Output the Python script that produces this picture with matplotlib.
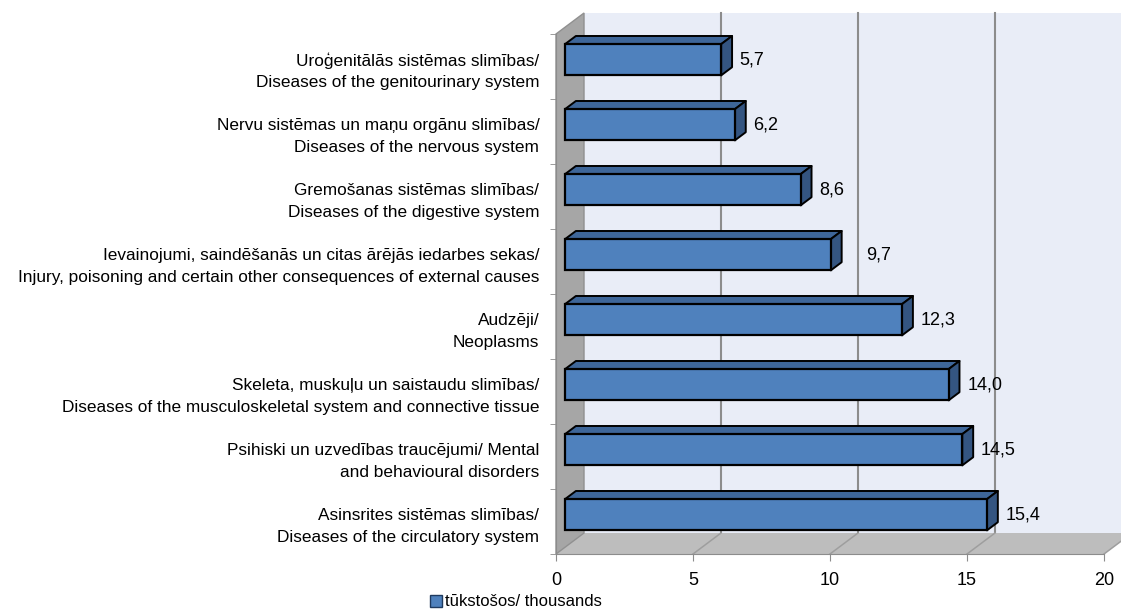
import matplotlib
matplotlib.use("Agg")
import matplotlib.pyplot as plt
from matplotlib.patches import Polygon, Patch
from matplotlib.lines import Line2D

# ---- data (bottom to top) ----
categories = [
    "Asinsrites sistēmas slimības/\nDiseases of the circulatory system",
    "Psihiski un uzvedības traucējumi/ Mental\nand behavioural disorders",
    "Skeleta, muskuļu un saistaudu slimības/\nDiseases of the musculoskeletal system and connective tissue",
    "Audzēji/\nNeoplasms",
    "Ievainojumi, saindēšanās un citas ārējās iedarbes sekas/\nInjury, poisoning and certain other consequences of external causes",
    "Gremošanas sistēmas slimības/\nDiseases of the digestive system",
    "Nervu sistēmas un maņu orgānu slimības/\nDiseases of the nervous system",
    "Uroģenitālās sistēmas slimības/\nDiseases of the genitourinary system",
]
values = [15.4, 14.5, 14.0, 12.3, 9.7, 8.6, 6.2, 5.7]
value_labels = ["15,4", "14,5", "14,0", "12,3", "9,7", "8,6", "6,2", "5,7"]
x_ticks = [0, 5, 10, 15, 20]
x_tick_labels = ["0", "5", "10", "15", "20"]
legend_label = "tūkstošos/ thousands"

# ---- style ----
plt.rcParams["font.family"] = ["Liberation Sans", "DejaVu Sans"]
FS = 13
FS_CAT = 12.4
W, H, DPI = 1121, 613, 100

# 3D oblique projection (full depth offset in data units)
DX = 1.022   # value units
DY = 0.323   # category units
ZB0, ZB1 = 0.32, 0.71   # bar front / back depth fraction
BAR_H = 0.48

def P(v, y, z):
    return (v + z * DX, y + z * DY)

fig = plt.figure(figsize=(W / DPI, H / DPI), dpi=DPI)
ax = fig.add_axes([556 / W, (H - 554) / H, 548 / W, 520 / H])
n = len(categories)
ax.set_xlim(0, 20)
ax.set_ylim(-0.5, n - 0.5)
ax.set_facecolor("none")

ymin, ymax = -0.5, n - 0.5
XMAX = 20

wall_col = "#E9EDF7"
side_wall_col = "#A6A6A6"
floor_col = "#BDBDBD"
grid_col = "#8C8C8C"

# back wall
ax.add_patch(Polygon([P(0, ymin, 1), P(XMAX, ymin, 1), P(XMAX, ymax, 1), P(0, ymax, 1)],
                     closed=True, facecolor=wall_col, edgecolor="none", zorder=0, clip_on=False))
# gridlines on back wall
for t in x_ticks[1:-1]:
    a, b = P(t, ymin, 1), P(t, ymax, 1)
    ax.add_line(Line2D([a[0], b[0]], [a[1], b[1]], color=grid_col, lw=1.5, zorder=1, clip_on=False))
# floor
ax.add_patch(Polygon([P(0, ymin, 0), P(XMAX, ymin, 0), P(XMAX, ymin, 1), P(0, ymin, 1)],
                     closed=True, facecolor=floor_col, edgecolor="none", zorder=1, clip_on=False))
for t in x_ticks[1:]:
    a, b = P(t, ymin, 0), P(t, ymin, 1)
    ax.add_line(Line2D([a[0], b[0]], [a[1], b[1]], color="#9E9E9E", lw=1.1, zorder=1.5, clip_on=False))
# left side wall
ax.add_patch(Polygon([P(0, ymin, 0), P(0, ymax, 0), P(0, ymax, 1), P(0, ymin, 1)],
                     closed=True, facecolor=side_wall_col, edgecolor="#909090", lw=1.0,
                     zorder=2, clip_on=False))

# bars
front_col = "#4F81BD"
top_col = "#3E6699"
side_col = "#345581"
ys = list(range(n))
fx0, fy0 = P(0, 0, ZB0)
ax.barh([y + fy0 for y in ys], values, height=BAR_H, left=fx0, color=front_col,
        edgecolor="black", linewidth=1.6, zorder=5)
for y, v in zip(ys, values):
    yt = y + BAR_H / 2
    yb = y - BAR_H / 2
    top = [P(0, yt, ZB0), P(v, yt, ZB0), P(v, yt, ZB1), P(0, yt, ZB1)]
    side = [P(v, yb, ZB0), P(v, yt, ZB0), P(v, yt, ZB1), P(v, yb, ZB1)]
    ax.add_patch(Polygon(top, closed=True, facecolor=top_col, edgecolor="black", lw=1.4,
                         zorder=4, clip_on=False, joinstyle="round"))
    ax.add_patch(Polygon(side, closed=True, facecolor=side_col, edgecolor="black", lw=1.4,
                         zorder=4, clip_on=False, joinstyle="round"))

# value labels
label_nudge = {4: 0.6}
for i, (y, v, lab) in enumerate(zip(ys, values, value_labels)):
    xe, ye = P(v, y, ZB1)
    ax.text(xe + 0.28 + label_nudge.get(i, 0), y + fy0, lab, ha="left", va="center",
            fontsize=FS, color="black", zorder=6, clip_on=False)

# axes
for s in ["top", "right"]:
    ax.spines[s].set_visible(False)
ax.spines["bottom"].set_color("#8C8C8C")
ax.spines["left"].set_color("#8C8C8C")
ax.spines["bottom"].set_zorder(3)
ax.spines["left"].set_zorder(3)
ax.set_xticks(x_ticks)
ax.set_xticklabels(x_tick_labels, fontsize=FS)
ax.tick_params(axis="x", direction="out", length=5, color="#8C8C8C", pad=8)
ax.set_yticks(ys)
ax.set_yticklabels(categories, fontsize=FS_CAT, linespacing=1.55)
ax.set_yticks([y - 0.5 for y in ys] + [n - 0.5], minor=True)
ax.tick_params(axis="y", which="major", length=0, pad=12)
ax.tick_params(axis="y", which="minor", length=4, color="#8C8C8C", direction="out")

# legend
handle = Patch(facecolor=front_col, edgecolor="#1F3A5F", linewidth=1.0)
fig.legend([handle], [legend_label], loc="center", bbox_to_anchor=(516 / W, 1 - 602 / H),
           frameon=False, fontsize=12, handlelength=0.75, handleheight=0.75,
           handletextpad=0.2, borderaxespad=0, borderpad=0)

fig.savefig("out.png", dpi=DPI)
